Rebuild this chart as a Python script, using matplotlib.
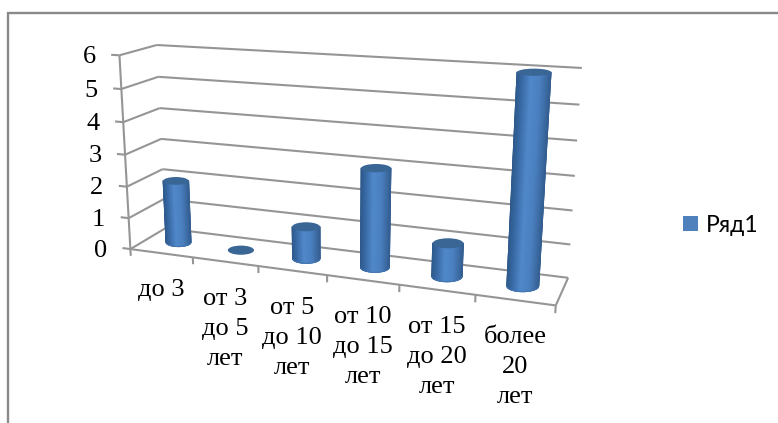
import numpy as np
import matplotlib
matplotlib.use("Agg")
import matplotlib.pyplot as plt
from matplotlib.colors import LinearSegmentedColormap
from matplotlib.patches import Ellipse, Rectangle

categories = ["до 3", "от 3\nдо 5\nлет", "от 5\nдо 10\nлет",
              "от 10\nдо 15\nлет", "от 15\nдо 20\nлет", "более\n20\nлет"]
values = [2, 0, 1, 3, 1, 6]
y_ticks = [0, 1, 2, 3, 4, 5, 6]
series_name = "Ряд1"

W, H = 778, 423
GRID = "#959595"
FRAME = "#8a8a8a"
SERIF = "Liberation Serif"

# camera calibration: (category axis, depth, value) -> figure pixel
cam_world = np.array([(0,0,0),(0,0,6),(0,1,0),(0,1,6),(6,1,6),(6,1,0),(6,0,0),
                      (1,0,0),(2,0,0),(3,0,0),(4,0,0),(5,0,0),
                      (6,1,3),(0,1,3)], float)
cam_pixel = np.array([(131,248),(119.3,55),(165,229),(157,45),(581.7,68.3),(568.3,276.7),(556,305),
                      (192.7,257),(258,266.5),(327.7,275.5),(399,285.5),(475,295.5),
                      (575,175.7),(161,139)], float)
rows, rhs = [], []
for (a, b, c), (px, py) in zip(cam_world, cam_pixel):
    rows.append([a, b, c, 1, 0, 0, 0, 0, -px*a, -px*b, -px*c]); rhs.append(px)
    rows.append([0, 0, 0, 0, a, b, c, 1, -py*a, -py*b, -py*c]); rhs.append(py)
cam = np.linalg.lstsq(np.array(rows), np.array(rhs), rcond=None)[0]

def project(u, d, v):
    w = cam[8]*u + cam[9]*d + cam[10]*v + 1
    return ((cam[0]*u + cam[1]*d + cam[2]*v + cam[3]) / w,
            (cam[4]*u + cam[5]*d + cam[6]*v + cam[7]) / w)

fig = plt.figure(figsize=(W/100, H/100), dpi=100)
ax = fig.add_axes([0, 0, 1, 1])
ax.set_xlim(0, W); ax.set_ylim(H, 0); ax.axis("off")

def seg(p, q, lw=1.5, color=GRID, z=1):
    a, b = project(*p), project(*q)
    ax.plot([a[0], b[0]], [a[1], b[1]], color=color, lw=lw, solid_capstyle="butt", zorder=z)

# chart frame
ax.plot([8.5, 8.5, W], [H, 13.5, 13.5], color=FRAME, lw=1.7, solid_joinstyle="miter", zorder=0)

n = len(categories)
top = max(y_ticks)
for t in y_ticks:
    seg((-0.13, 0, t), (0, 0, t))
    seg((0, 0, t), (0, 1, t))
    seg((0, 1, t), (n, 1, t))
    x, y = project(-0.13, 0, t)
    ax.text(x - 15.5, y + 2.5, str(t), family=SERIF, fontsize=19, ha="right", va="center", color="black")
seg((0, 0, 0), (0, 0, top))
seg((0, 0, 0), (n, 0, 0))
seg((n, 0, 0), (n, 1, 0))
for i in range(n + 1):
    seg((i, 0, 0), (i, 0, -0.22))
for i, lab in enumerate(categories):
    x, y = project(i + 0.5, 0, 0)
    ax.text(x, y + 26, lab, family=SERIF, fontsize=19, ha="center", va="top",
            linespacing=1.47, color="black")

# cylinders
cmap = LinearSegmentedColormap.from_list("cyl", [
    (0.0, "#2f5a8c"), (0.12, "#35659e"), (0.42, "#5088ca"), (0.7, "#4a80c0"),
    (0.9, "#3d6ca4"), (1.0, "#345f92")])
t = np.linspace(-1, 1, 61)
HALF = 0.205
for i, val in enumerate(values):
    bx, by = project(i + 0.5, 0.5, 0)
    tx, ty = project(i + 0.5, 0.5, val)
    rx = (project(i + 0.5 + HALF, 0.5, val)[0] - project(i + 0.5 - HALF, 0.5, val)[0]) / 2
    rb = (project(i + 0.5 + HALF, 0.5, 0)[0] - project(i + 0.5 - HALF, 0.5, 0)[0]) / 2
    ry = (0.35 - 0.023*val) * rx      # the view flattens the ellipse higher up
    if val > 0:
        X = np.vstack([tx + rx*t, bx + rb*t])
        Y = np.vstack([np.full_like(t, ty), by + 0.35*rb*np.sqrt(1 - t**2)])
        C = np.vstack([(t + 1)/2, (t + 1)/2])
        ax.pcolormesh(X, Y, C, cmap=cmap, vmin=0, vmax=1, shading="gouraud", zorder=3)
        ax.plot(X[1], Y[1], color="#4374ae", lw=0.7, zorder=3.5)
        ax.plot(X[:, 0], Y[:, 0], color="#2f5a8c", lw=0.7, zorder=3.5)
        ax.plot(X[:, -1], Y[:, -1], color="#345f92", lw=0.7, zorder=3.5)
    ax.add_patch(Ellipse((tx, ty), 2*rx, 2*ry, fc="#3a6696", ec="none", zorder=4))

# legend
ax.add_patch(Rectangle((683, 216), 15, 15, fc="#4f81bd", ec="none"))
ax.text(705.5, 226, series_name, family=["Lato", "Noto Sans"], fontsize=16.5, ha="left",
        va="center", color="black")

ax.set_xlim(0, W); ax.set_ylim(H, 0)
fig.savefig("out.png", dpi=100)
